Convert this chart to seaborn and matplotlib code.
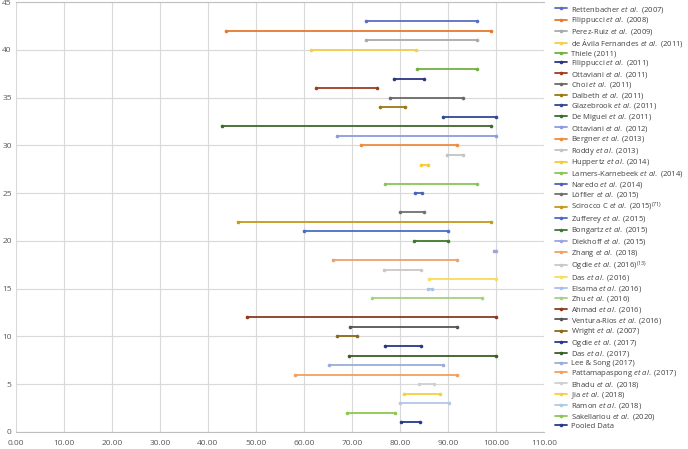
import pandas as pd
import matplotlib.pyplot as plt
import seaborn as sns
from matplotlib.lines import Line2D

# Study labels (legend order, top to bottom)
studies = [
    "Rettenbacher $\\it{et\\ al.}$ (2007)",
    "Filippucci $\\it{et\\ al.}$ (2008)",
    "Perez-Ruiz $\\it{et\\ al.}$ (2009)",
    "de Ávila Fernandes $\\it{et\\ al.}$ (2011)",
    "Thiele (2011)",
    "Filippucci $\\it{et\\ al.}$ (2011)",
    "Ottaviani $\\it{et\\ al.}$ (2011)",
    "Choi $\\it{et\\ al.}$ (2011)",
    "Dalbeth $\\it{et\\ al.}$ (2011)",
    "Glazebrook $\\it{et\\ al.}$ (2011)",
    "De Miguel $\\it{et\\ al.}$ (2011)",
    "Ottaviani $\\it{et\\ al.}$ (2012)",
    "Bergner $\\it{et\\ al.}$ (2013)",
    "Roddy $\\it{et\\ al.}$ (2013)",
    "Huppertz $\\it{et\\ al.}$ (2014)",
    "Lamers-Karnebeek $\\it{et\\ al.}$ (2014)",
    "Naredo $\\it{et\\ al.}$ (2014)",
    "Löffler $\\it{et\\ al.}$ (2015)",
    "Scirocco C $\\it{et\\ al.}$ (2015)$^{(71)}$",
    "Zufferey $\\it{et\\ al.}$ (2015)",
    "Bongartz $\\it{et\\ al.}$ (2015)",
    "Diekhoff $\\it{et\\ al.}$ (2015)",
    "Zhang $\\it{et\\ al.}$ (2018)",
    "Ogdie $\\it{et\\ al.}$ (2016)$^{(13)}$",
    "Das $\\it{et\\ al.}$ (2016)",
    "Elsama $\\it{et\\ al.}$ (2016)",
    "Zhu $\\it{et\\ al.}$ (2016)",
    "Ahmad $\\it{et\\ al.}$ (2016)",
    "Ventura-Rios $\\it{et\\ al.}$ (2016)",
    "Wright $\\it{et\\ al.}$ (2007)",
    "Ogdie $\\it{et\\ al.}$ (2017)",
    "Das $\\it{et\\ al.}$ (2017)",
    "Lee & Song (2017)",
    "Pattamapaspong $\\it{et\\ al.}$ (2017)",
    "Bhadu $\\it{et\\ al.}$ (2018)",
    "Jia $\\it{et\\ al.}$ (2018)",
    "Ramon $\\it{et\\ al.}$ (2018)",
    "Sakellariou $\\it{et\\ al.}$ (2020)",
    "Pooled Data",
]

# row on the y axis
row = [43, 42, 41, 40, 38, 37, 36, 35, 34, 33, 32, 31, 30, 29, 28, 26, 25,
       23, 22, 21, 20, 19, 18, 17, 16, 15, 14, 12, 11, 10, 9, 8, 7, 6, 5, 4, 3, 2, 1]

# range low / high
low = [72.8, 43.7, 72.8, 61.5, 83.5, 78.8, 62.4, 77.9, 75.8, 88.9, 43.0, 66.9, 71.9,
       89.8, 84.4, 76.9, 83.2, 79.9, 46.3, 60.0, 82.9, 99.6, 66.0, 76.7, 86.1, 85.8,
       74.2, 48.1, 69.6, 66.9, 76.8, 69.4, 65.1, 58.1, 83.9, 80.8, 79.9, 69.0, 80.1]
high = [96.0, 99.0, 96.0, 83.3, 96.0, 85.0, 75.1, 93.0, 81.0, 100.0, 99.0, 100.0, 91.9,
        93.1, 85.8, 96.0, 84.6, 85.0, 99.0, 90.0, 90.0, 100.0, 91.9, 84.4, 100.0, 86.7,
        97.1, 100.0, 91.9, 71.0, 84.3, 100.0, 89.0, 91.9, 87.1, 88.3, 90.1, 79.0, 84.2]

colors = ["#5b6ec4", "#e8782e", "#a9a9a9", "#f2d04a", "#72b043", "#2b3580", "#9e3d1e",
          "#6a6a6a", "#9a7a12", "#2f4a94", "#3e6a2a", "#8a9be0", "#ef8c3c", "#c4c4c4",
          "#f6cc2b", "#8cc45a", "#4a63b8", "#707070", "#c49a1a", "#4a6cc8", "#3d7a2e",
          "#9aa5e0", "#f0a06a", "#c8c8c8", "#f8dc5a", "#a8c0f0", "#a8d080", "#8a3a20",
          "#555555", "#8a6a18", "#283888", "#3a5e26", "#9aacdc", "#f0a060", "#d0d0d0",
          "#f5d040", "#b0c8e8", "#8cc850", "#28388a"]

df = pd.DataFrame({
    "study": studies * 2,
    "x": low + high,
    "y": row * 2,
})

sns.set_style("white")
plt.rcParams["font.family"] = ["Open Sans", "DejaVu Sans"]
plt.rcParams["mathtext.fontset"] = "custom"
plt.rcParams["mathtext.rm"] = "Open Sans"
plt.rcParams["mathtext.it"] = "Open Sans:italic"

fig = plt.figure(figsize=(6.88, 4.49), dpi=100)
ax = fig.add_axes([0.023, 0.038, 0.768, 0.957])

sns.lineplot(data=df, x="x", y="y", hue="study", hue_order=studies,
             palette=colors, estimator=None, sort=False, marker="o",
             markersize=2.6, markeredgewidth=0, linewidth=1.3,
             legend=False, ax=ax)

ax.set_xlim(0, 110)
ax.set_ylim(0, 45)
ax.set_xticks(range(0, 111, 10))
ax.set_xticklabels([f"{v:.2f}" for v in range(0, 111, 10)])
ax.set_yticks(range(0, 46, 5))
ax.grid(True, color="#d9d9d9", linewidth=0.8)
ax.set_axisbelow(True)
for s in ["right", "left"]:
    ax.spines[s].set_visible(False)
ax.spines["top"].set_color("#bfbfbf")
ax.spines["top"].set_linewidth(0.8)
ax.spines["bottom"].set_color("#bfbfbf")
ax.spines["bottom"].set_linewidth(0.8)
ax.tick_params(axis="both", length=0, labelsize=6, labelcolor="#595959")
ax.tick_params(axis="x", pad=6)
ax.tick_params(axis="y", pad=3)
ax.set_xlabel("")
ax.set_ylabel("")

handles = [Line2D([0], [0], color=c, linewidth=1.3, marker="o", markersize=2.6,
                  markeredgewidth=0) for c in colors]
fig.legend(handles, studies, loc="upper left", bbox_to_anchor=(0.8, 1.0),
           frameon=False, fontsize=5.5, labelspacing=0.08, handlelength=1.6,
           handletextpad=0.5, borderaxespad=0.2, labelcolor="#404040")

fig.savefig("out.png", dpi=100)
